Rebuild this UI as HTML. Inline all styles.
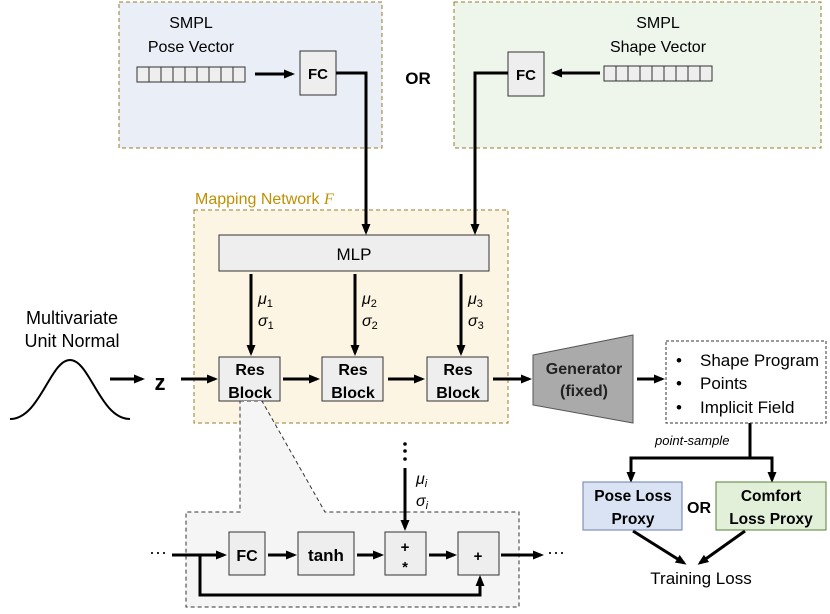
<!DOCTYPE html>
<html><head><style>
body{margin:0;background:#fff}
svg text{font-family:"Liberation Sans",sans-serif}
</style></head><body>
<svg width="830" height="609" viewBox="0 0 830 609" xmlns="http://www.w3.org/2000/svg">
<defs>
<marker id="a" markerWidth="11" markerHeight="10" refX="8" refY="5" orient="auto" markerUnits="userSpaceOnUse"><path d="M0,0.5 L11,5 L0,9.5 z" fill="#000"/></marker>
</defs>
<!-- top boxes -->
<rect x="119" y="2" width="263" height="146" fill="#e9eef7" stroke="#9a7b2c" stroke-dasharray="4,3"/>
<rect x="454" y="2" width="367" height="146" fill="#eef5ea" stroke="#9a7b2c" stroke-dasharray="4,3"/>
<text x="191" y="28" font-size="16" text-anchor="middle">SMPL</text>
<text x="191" y="52" font-size="16" text-anchor="middle">Pose Vector</text>
<text x="658" y="28" font-size="16" text-anchor="middle">SMPL</text>
<text x="658" y="52" font-size="16" text-anchor="middle">Shape Vector</text>
<g fill="#eee" stroke="#333">
<rect x="137" y="67" width="108" height="15"/>
<rect x="604" y="66" width="108" height="15"/>
</g>
<g stroke="#333">
<path d="M149,67v15M161,67v15M173,67v15M185,67v15M197,67v15M209,67v15M221,67v15M233,67v15"/>
<path d="M616,66v15M628,66v15M640,66v15M652,66v15M664,66v15M676,66v15M688,66v15M700,66v15"/>
</g>
<rect x="300" y="51" width="36" height="44" fill="#eee" stroke="#333"/>
<text x="318" y="79" font-size="15" font-weight="bold" text-anchor="middle">FC</text>
<rect x="508" y="52" width="36" height="44" fill="#eee" stroke="#333"/>
<text x="526" y="80" font-size="15" font-weight="bold" text-anchor="middle">FC</text>
<text x="418" y="84" font-size="17" font-weight="bold" text-anchor="middle">OR</text>
<!-- mapping -->
<rect x="194" y="210" width="314" height="213" fill="#fdf5e3" stroke="#9a7b2c" stroke-dasharray="4,3"/>
<text x="195" y="204" font-size="16" fill="#c09000">Mapping Network <tspan font-family="Liberation Serif" font-style="italic">F</tspan></text>
<rect x="219" y="235" width="270" height="36" fill="#eee" stroke="#333"/>
<text x="354" y="260" font-size="17" text-anchor="middle">MLP</text>
<g stroke="#000" stroke-width="3" fill="none" marker-end="url(#a)">
<path d="M255,74H292"/>
<path d="M600,73H554"/>
<path d="M336,73H366V232"/>
<path d="M508,73H475V232"/>
<path d="M251,274V353"/><path d="M355,274V353"/><path d="M461,274V353"/>
<path d="M110,379H142"/><path d="M181,379H215"/>
<path d="M283,379H317"/><path d="M388,379H422"/><path d="M493,379H529"/>
<path d="M637,379H662"/>
<path d="M750,423V458H631V480"/><path d="M750,458H772V480"/>
<path d="M633,531L684,563"/><path d="M745,531L700,563"/>
</g>
<g font-family="Liberation Serif" font-style="italic" font-size="16">
<text x="258" y="304">μ<tspan font-size="11" font-style="normal" dy="3">1</tspan></text>
<text x="258" y="326">σ<tspan font-size="11" font-style="normal" dy="3">1</tspan></text>
<text x="362" y="304">μ<tspan font-size="11" font-style="normal" dy="3">2</tspan></text>
<text x="362" y="326">σ<tspan font-size="11" font-style="normal" dy="3">2</tspan></text>
<text x="468" y="304">μ<tspan font-size="11" font-style="normal" dy="3">3</tspan></text>
<text x="468" y="326">σ<tspan font-size="11" font-style="normal" dy="3">3</tspan></text>
<text x="416" y="484">μ<tspan font-size="11" dy="3">i</tspan></text>
<text x="416" y="506">σ<tspan font-size="11" dy="3">i</tspan></text>
</g>
<g fill="#eee" stroke="#333">
<rect x="219" y="357" width="61" height="44"/>
<rect x="322" y="357" width="61" height="44"/>
<rect x="427" y="357" width="61" height="44"/>
</g>
<g font-size="16" font-weight="bold" text-anchor="middle">
<text x="250" y="375">Res</text><text x="250" y="398">Block</text>
<text x="353" y="375">Res</text><text x="353" y="398">Block</text>
<text x="458" y="375">Res</text><text x="458" y="398">Block</text>
</g>
<text x="72" y="324" font-size="18" text-anchor="middle">Multivariate</text>
<text x="72" y="347" font-size="18" text-anchor="middle">Unit Normal</text>
<path d="M10,419 C40,419 50,360 70,360 C90,360 100,419 130,419" fill="none" stroke="#000" stroke-width="2"/>
<text x="160" y="390" font-family="Liberation Serif" font-size="22" font-weight="bold" text-anchor="middle">z</text>
<!-- generator -->
<path d="M533,355L633,335V423L533,405Z" fill="#aaa" stroke="#555"/>
<text x="584" y="374" font-size="16" font-weight="bold" fill="#222" text-anchor="middle">Generator</text>
<text x="584" y="396" font-size="16" font-weight="bold" fill="#222" text-anchor="middle">(fixed)</text>
<rect x="666" y="341" width="160" height="82" fill="#fff" stroke="#333" stroke-dasharray="3,2"/>
<g font-size="17"><text x="676" y="366">•</text><text x="700" y="366">Shape Program</text>
<text x="676" y="389">•</text><text x="700" y="389">Points</text>
<text x="676" y="413">•</text><text x="700" y="413">Implicit Field</text></g>
<text x="655" y="445" font-size="13" font-style="italic">point-sample</text>
<rect x="583" y="482" width="99" height="48" fill="#dae3f3" stroke="#6b7fa8"/>
<text x="633" y="501" font-size="15.5" font-weight="bold" text-anchor="middle">Pose Loss</text>
<text x="633" y="524" font-size="15.5" font-weight="bold" text-anchor="middle">Proxy</text>
<rect x="716" y="482" width="110" height="48" fill="#e2f0d9" stroke="#548235"/>
<text x="771" y="501" font-size="15.5" font-weight="bold" text-anchor="middle">Comfort</text>
<text x="771" y="524" font-size="15.5" font-weight="bold" text-anchor="middle">Loss Proxy</text>
<text x="699" y="513" font-size="16" font-weight="bold" text-anchor="middle">OR</text>
<text x="701" y="584" font-size="17" text-anchor="middle">Training Loss</text>
<!-- bottom detail -->
<path d="M240,401L262,401L325,512H519V607H186V512H240Z" fill="#f5f5f5" stroke="#333" stroke-dasharray="4,3"/>
<g stroke="#000" stroke-width="3" fill="none" marker-end="url(#a)">
<path d="M172,555H224"/><path d="M200,555V595H480V578"/><path d="M405,468V528"/>
<path d="M268,555H294"/><path d="M357,555H381"/><path d="M429,555H454"/><path d="M501,555H541"/>
</g>
<g fill="#eee" stroke="#333">
<rect x="229" y="532" width="36" height="43"/>
<rect x="298" y="532" width="56" height="43"/>
<rect x="385" y="532" width="41" height="43"/>
<rect x="458" y="532" width="41" height="43"/>
</g>
<text x="247" y="561" font-size="16" font-weight="bold" text-anchor="middle">FC</text>
<text x="326" y="561" font-size="17" font-weight="bold" text-anchor="middle">tanh</text>
<text x="405" y="552" font-size="15" font-weight="bold" text-anchor="middle">+</text>
<text x="405" y="572" font-size="15" font-weight="bold" text-anchor="middle">*</text>
<text x="478" y="561" font-size="15" font-weight="bold" text-anchor="middle">+</text>
<text x="158" y="558" font-size="18" text-anchor="middle">···</text>
<text x="556" y="558" font-size="18" text-anchor="middle">···</text>
<g fill="#000"><circle cx="405" cy="444" r="1.8"/><circle cx="405" cy="451" r="1.8"/><circle cx="405" cy="459" r="1.8"/></g>
</svg>
</body></html>
